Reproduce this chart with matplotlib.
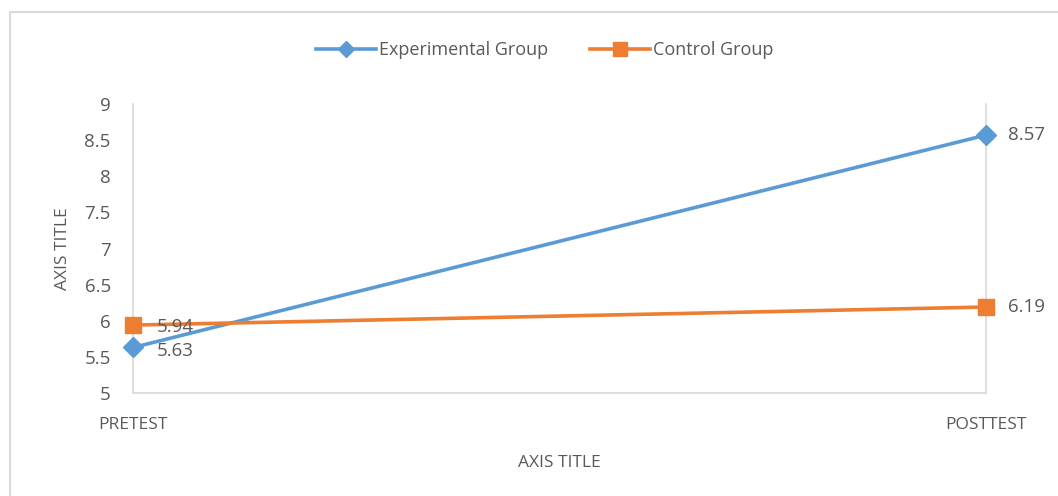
import matplotlib
matplotlib.use('Agg')
import matplotlib.pyplot as plt
from matplotlib.lines import Line2D

# data
categories = ['PRETEST', 'POSTTEST']
experimental = [5.63, 8.57]
control = [5.94, 6.19]

blue = '#5B9BD5'
orange = '#ED7D31'
grey_txt = '#595959'
grey_line = '#D9D9D9'

plt.rcParams['font.family'] = ['Open Sans', 'DejaVu Sans']

W, H = 1058, 496
fig = plt.figure(figsize=(W/100, H/100), dpi=100)
ax = fig.add_axes([133/W, 1-393/H, (986-133)/W, (393-104)/H])

x = list(range(len(categories)))
ax.plot(x, experimental, color=blue, lw=2.6, marker='D', ms=10, label='Experimental Group',
        clip_on=False, zorder=3)
ax.plot(x, control, color=orange, lw=2.6, marker='s', ms=12, label='Control Group',
        clip_on=False, zorder=3)

ax.set_xlim(0, 1)
ax.set_ylim(5, 9)
ax.set_yticks([5, 5.5, 6, 6.5, 7, 7.5, 8, 8.5, 9])
ax.set_yticklabels(['5', '5.5', '6', '6.5', '7', '7.5', '8', '8.5', '9'])
ax.set_xticks(x)
ax.set_xticklabels(categories)
ax.tick_params(axis='y', length=0, labelsize=13.5, labelcolor=grey_txt, pad=16)
ax.tick_params(axis='x', length=0, labelsize=12.5, labelcolor=grey_txt, pad=17)
for s in ['left', 'bottom', 'right']:
    ax.spines[s].set_color(grey_line)
    ax.spines[s].set_linewidth(1.2)
ax.spines['top'].set_visible(False)

# data labels
lab_kw = dict(textcoords='offset points', va='center', ha='left', fontsize=13.5,
              color=grey_txt, annotation_clip=False)
ax.annotate('5.94', (0, control[0]), xytext=(17, -1.5), **lab_kw)
ax.annotate('5.63', (0, experimental[0]), xytext=(17, -2.5), **lab_kw)
ax.annotate('8.57', (1, experimental[1]), xytext=(16, 0), **lab_kw)
ax.annotate('6.19', (1, control[1]), xytext=(16, 0), **lab_kw)

ax.set_ylabel('AXIS TITLE', fontsize=12.5, color=grey_txt, labelpad=10)
ax.set_xlabel('AXIS TITLE', fontsize=12.5, color=grey_txt, labelpad=16)

leg = fig.legend(loc='center', bbox_to_anchor=(545/W, 1-50/H), ncol=2, frameon=False,
                 fontsize=13, handlelength=3.3, columnspacing=2.3, handletextpad=0.2,
                 markerscale=0.8)
for t in leg.get_texts():
    t.set_color(grey_txt)

# chart area border (top and left edges visible)
fig.add_artist(Line2D([10/W, 10/W, 1], [0, 1-12/H, 1-12/H], transform=fig.transFigure,
                      color=grey_line, lw=1.5))

fig.savefig('out.png', dpi=100)
